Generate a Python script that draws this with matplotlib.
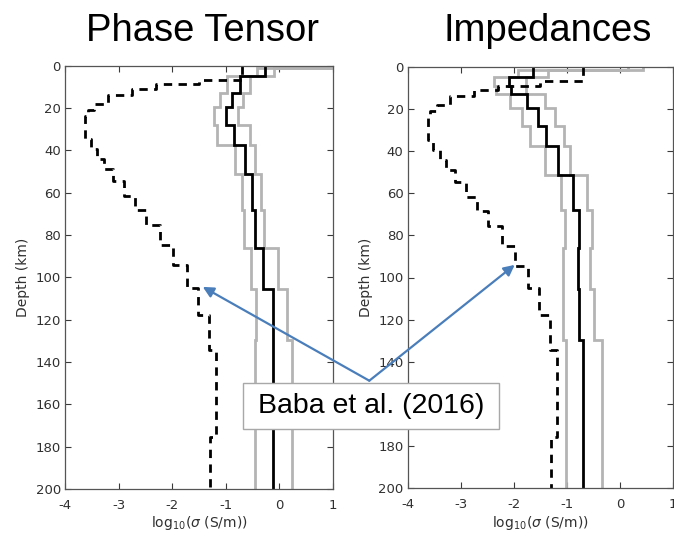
import numpy as np
import matplotlib
matplotlib.use("Agg")
import matplotlib.pyplot as plt
from matplotlib.patches import Rectangle

plt.rcParams['axes.unicode_minus'] = False
plt.rcParams['font.family'] = ['DejaVu Sans']

# ---------------- data ----------------
titles = ["Phase Tensor", "Impedances"]
ref_label = "Baba et al. (2016)"

# inversion layer boundaries (km)
depth_bounds = [0, 1.3, 4.7, 8.8, 12.8, 19.3, 28.1, 37.7, 51.4, 68, 86, 105.3, 129.5, 200]

# Phase tensor inversion: log10 conductivity per layer
pt_median = [-0.26, -0.26, -0.74, -0.74, -0.88, -1.00, -0.84, -0.64, -0.51, -0.46, -0.30, -0.12, -0.12]
pt_lower  = [1.1, -0.42, -0.97, -0.97, -1.11, -1.22, -1.17, -0.83, -0.69, -0.655, -0.53, -0.43, -0.46]
pt_upper  = [1.5, -0.11, -0.54, -0.54, -0.67, -0.77, -0.55, -0.46, -0.35, -0.29, -0.02, 0.14, 0.23]

# Impedance inversion
z_median = [-1.64, -1.64, -2.10, -2.05, -1.76, -1.55, -1.39, -1.17, -0.89, -0.77, -0.80, -0.77, -0.69]
z_lower  = [0.15, -1.92, -2.37, -2.33, -2.08, -1.84, -1.69, -1.42, -1.12, -1.03, -1.07, -1.07, -1.01]
z_upper  = [0.43, -1.36, -1.78, -1.78, -1.41, -1.22, -1.05, -0.94, -0.63, -0.52, -0.56, -0.50, -0.34]

# Baba et al. (2016) reference model
baba_bounds = [0, 6.7, 8.8, 11, 14, 18, 21, 23.6, 34.7, 39.5, 44, 49, 54.7, 61.8,
               68.2, 75.3, 84.8, 94.3, 105.2, 117.7, 134.4, 175.6, 200]
baba_vals = [-0.69, -1.5, -2.3, -2.75, -3.2, -3.45, -3.58, -3.62, -3.52, -3.40, -3.27,
             -3.10, -2.90, -2.70, -2.48, -2.23, -1.98, -1.73, -1.52, -1.32, -1.19, -1.30]

x_ticks = [-4, -3, -2, -1, 0, 1]
y_ticks = [0, 20, 40, 60, 80, 100, 120, 140, 160, 180, 200]

# arrow targets (data coords in each panel)
arrow_targets = [(-1.43, 104.5), (-1.985, 94.0)]


def step_xy(bounds, vals):
    b = np.asarray(bounds, float)
    v = np.asarray(vals, float)
    ys = np.column_stack([b[:-1], b[1:]]).ravel()
    xs = np.repeat(v, 2)
    return xs, ys


fig = plt.figure(figsize=(6.74, 5.39), dpi=100)
W, H = 674.0, 539.0
ax1 = fig.add_axes([65 / W, 1 - 489 / H, 268 / W, (489 - 65.7) / H])
ax2 = fig.add_axes([407.7 / W, 1 - 488 / H, 265.5 / W, (488 - 67) / H])

gray = '#b4b4b4'
axcol = '#3a3a3a'
panels = [(ax1, pt_median, pt_lower, pt_upper), (ax2, z_median, z_lower, z_upper)]
for ax, med, lo, up in panels:
    for vals in (lo, up):
        xs, ys = step_xy(depth_bounds, vals)
        ax.plot(xs, ys, color=gray, lw=2.0, solid_joinstyle='miter')
    xs, ys = step_xy(depth_bounds, med)
    ax.plot(xs, ys, color='black', lw=2.0, solid_joinstyle='miter')
    xs, ys = step_xy(baba_bounds, baba_vals)
    ax.plot(xs, ys, color='black', lw=2.0, linestyle=(0, (3.0, 2.3)))
    ax.set_xlim(-4, 1)
    ax.set_ylim(200, 0)
    ax.set_xticks(x_ticks)
    ax.set_yticks(y_ticks)
    ax.tick_params(direction='in', top=True, right=True, length=4, width=0.8,
                   colors=axcol, labelsize=9.5, labelcolor='#303030')
    ax.tick_params(axis='x', pad=7)
    ax.tick_params(axis='y', pad=3)
    for s in ax.spines.values():
        s.set_color('#555555')
        s.set_linewidth(0.9)
    ax.set_ylabel('Depth (km)', fontsize=10, color='#303030', labelpad=4)
    ax.set_xlabel(r'log$_{10}$($\sigma$ (S/m))', fontsize=10, color='#303030', labelpad=2)

# titles
fig.text(202.5 / W, 1 - 41 / H, titles[0], fontsize=27.5, family='Liberation Sans',
         ha='center', va='baseline')
fig.text(547.5 / W, 1 - 41 / H, titles[1], fontsize=27.5, family='Liberation Sans',
         ha='center', va='baseline')

# arrows
apex = (369.3 / W, 1 - 380.7 / H)
acol = '#4a7ebb'
for ax, tgt in zip((ax1, ax2), arrow_targets):
    ax.annotate('', xy=tgt, xycoords='data', xytext=apex, textcoords='figure fraction',
                arrowprops=dict(arrowstyle='-|>', color=acol, lw=1.6, mutation_scale=16,
                                shrinkA=0, shrinkB=0), annotation_clip=False)

# reference label box
box = Rectangle((243 / W, 1 - 429 / H), (499 - 243) / W, (429 - 383) / H,
                transform=fig.transFigure, facecolor='white', edgecolor='#a8a8a8',
                lw=1.0, zorder=10)
fig.add_artist(box)
fig.text(371 / W, 1 - 406 / H, ref_label, fontsize=20.5, family='Liberation Sans',
         ha='center', va='center', zorder=11)

fig.savefig('out.png', dpi=100)
